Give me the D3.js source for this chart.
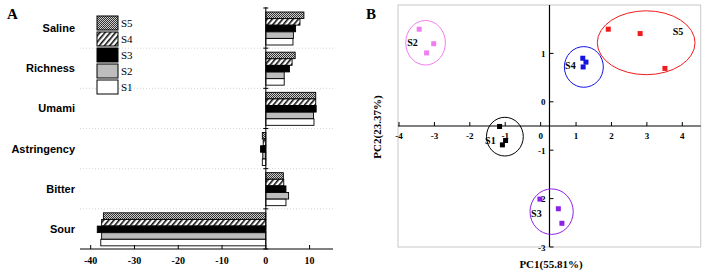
<!DOCTYPE html>
<html>
<head>
<meta charset="utf-8">
<script src="https://cdn.jsdelivr.net/npm/d3@7"></script>
<style>
  body { margin: 0; background: #fff; }
  svg { display: block; }
</style>
</head>
<body>
<svg id="chart" width="708" height="275"></svg>
<script>
// panel A - taste profile
const categories = ["Saline", "Richness", "Umami", "Astringency", "Bitter", "Sour"];
const series = ["S5", "S4", "S3", "S2", "S1"];
const valS1 = [6.2, 4.2, 11.0, -0.8, 4.6, -37.7];
const valS2 = [6.3, 4.2, 10.9, -0.7, 5.2, -37.5];
const valS3 = [6.8, 5.4, 11.5, -1.2, 4.6, -38.5];
const valS4 = [7.8, 6.0, 11.4, -0.6, 4.1, -37.5];
const valS5 = [8.7, 6.7, 11.4, -0.8, 4.0, -37.1];
const xTicksA = [-40, -30, -20, -10, 0, 10];

// panel B - PCA scores
const pcaS1 = [[-1.16, -0.51], [-0.99, -0.80], [-1.08, -0.89]];
const pcaS2 = [[-3.43, 1.50], [-3.02, 1.20], [-3.22, 1.01]];
const pcaS3 = [[-0.02, -2.01], [0.50, -2.21], [0.60, -2.51]];
const pcaS4 = [[1.19, 0.90], [1.28, 0.82], [1.20, 0.72]];
const pcaS5 = [[1.91, 1.50], [2.81, 1.41], [3.51, 0.69]];
// group ellipses: cx, cy, rx, ry (data units)
const ellS1 = [-1.01, -0.72, 0.52, 0.40];
const ellS2 = [-3.25, 1.22, 0.56, 0.46];
const ellS3 = [0.31, -2.27, 0.61, 0.47];
const ellS4 = [1.22, 0.72, 0.55, 0.42];
const ellS5 = [2.98, 1.22, 1.38, 0.66];
const labelPos = [[-1.42, -0.80], [-3.62, 1.22], [-0.12, -2.30], [0.84, 0.76], [3.88, 1.45]];
const xTicksB = [-4, -3, -2, -1, 0, 1, 2, 3, 4];
const yTicksB = [1, 0, -1, -2, -3];

const svg = d3.select("#chart");
const serif = "'Liberation Serif', 'DejaVu Serif', serif";
const sans = "'Liberation Sans', Arial, sans-serif";

// patterns
const defs = svg.append("defs");
let pDots = defs.append("pattern").attr("id", "pDots")
  .attr("patternUnits", "userSpaceOnUse").attr("width", 2).attr("height", 2);
pDots.append("rect").attr("width", 2).attr("height", 2).attr("fill", "#d0d0d0");
pDots.append("rect").attr("width", 1).attr("height", 1).attr("fill", "#333");
pDots.append("rect").attr("x", 1).attr("y", 1).attr("width", 1).attr("height", 1).attr("fill", "#333");

let pHatch = defs.append("pattern").attr("id", "pHatch")
  .attr("patternUnits", "userSpaceOnUse").attr("width", 4).attr("height", 4)
  .attr("patternTransform", "rotate(40)");
pHatch.append("rect").attr("width", 4).attr("height", 4).attr("fill", "#fff");
pHatch.append("rect").attr("width", 1.6).attr("height", 4).attr("fill", "#111");

const fills = { S5: "url(#pDots)", S4: "url(#pHatch)", S3: "#000", S2: "#bdbdbd", S1: "#fff" };
const valuesBy = { S1: valS1, S2: valS2, S3: valS3, S4: valS4, S5: valS5 };

// ---------- panel A ----------
let xA = d3.scaleLinear().domain([-40, 10]).range([90.7, 309.6]);
let yA = d3.scaleBand().domain(categories).range([8, 249]);
let yInner = d3.scaleBand().domain(series).range([4, 37]).paddingInner(0.02);

let gA = svg.append("g");

// dotted separators
gA.selectAll("line.sep").data(categories.slice(1))
  .join("line").attr("class", "sep")
  .attr("x1", 80).attr("x2", 333)
  .attr("y1", d => yA(d)).attr("y2", d => yA(d))
  .attr("stroke", "#ccc").attr("stroke-width", 0.8).attr("stroke-dasharray", "1,2");

// bars
series.forEach(s => {
  gA.selectAll("rect.b" + s).data(categories)
    .join("rect").attr("class", "b" + s)
    .attr("x", (d, i) => xA(Math.min(0, valuesBy[s][i])))
    .attr("width", (d, i) => Math.abs(xA(valuesBy[s][i]) - xA(0)))
    .attr("y", d => yA(d) + yInner(s))
    .attr("height", yInner.bandwidth())
    .attr("fill", fills[s])
    .attr("stroke", "#000").attr("stroke-width", 0.9);
});

// x axis
let axA = gA.append("g").attr("transform", "translate(0,249)");
axA.append("line").attr("x1", 80).attr("x2", 333).attr("stroke", "#000").attr("stroke-width", 1);
axA.selectAll("line.tk").data(xTicksA).join("line").attr("class", "tk")
  .attr("x1", d => xA(d)).attr("x2", d => xA(d)).attr("y1", 0).attr("y2", -4)
  .attr("stroke", "#000");
axA.selectAll("text").data(xTicksA).join("text")
  .attr("x", d => xA(d)).attr("y", 15)
  .attr("text-anchor", "middle")
  .attr("font-family", serif).attr("font-weight", "bold").attr("font-size", 10)
  .text(d => d);

// y axis at zero
gA.append("line").attr("x1", xA(0)).attr("x2", xA(0)).attr("y1", 7).attr("y2", 249)
  .attr("stroke", "#000").attr("stroke-width", 1);
gA.selectAll("line.ytk").data(categories.concat(["end"]))
  .join("line").attr("class", "ytk")
  .attr("x1", xA(0) - 2.5).attr("x2", xA(0) + 2.5)
  .attr("y1", d => d === "end" ? 249 : yA(d)).attr("y2", d => d === "end" ? 249 : yA(d))
  .attr("stroke", "#000");

// category labels
gA.selectAll("text.cat").data(categories).join("text").attr("class", "cat")
  .attr("x", 75).attr("y", d => yA(d) + yA.bandwidth() / 2 + 4)
  .attr("text-anchor", "end")
  .attr("font-family", sans).attr("font-weight", "bold").attr("font-size", 11)
  .text(d => d);

// legend
let leg = gA.append("g").attr("transform", "translate(97,16)");
series.forEach((s, i) => {
  leg.append("rect").attr("x", 0).attr("y", i * 16).attr("width", 21).attr("height", 14)
    .attr("fill", fills[s]).attr("stroke", "#000").attr("stroke-width", 1);
  leg.append("text").attr("x", 24).attr("y", i * 16 + 11)
    .attr("font-family", serif).attr("font-size", 11).text(s);
});

svg.append("text").attr("x", 7).attr("y", 19)
  .attr("font-family", serif).attr("font-weight", "bold").attr("font-size", 15).text("A");

// ---------- panel B ----------
let xB = d3.scaleLinear().domain([-4, 4.52]).range([399, 700.7]);
let yB = d3.scaleLinear().domain([-3, 2]).range([247, 5]);
let gB = svg.append("g");

gB.append("rect").attr("x", 398).attr("y", 5).attr("width", 302.7).attr("height", 242)
  .attr("fill", "none").attr("stroke", "#c8c8c8").attr("stroke-width", 1);

const xAxisY = yB(-0.5), yAxisX = xB(0.25);
gB.append("line").attr("x1", 398).attr("x2", 700.7).attr("y1", xAxisY).attr("y2", xAxisY)
  .attr("stroke", "#000").attr("stroke-width", 1.2);
gB.append("line").attr("x1", yAxisX).attr("x2", yAxisX).attr("y1", 5).attr("y2", 247)
  .attr("stroke", "#000").attr("stroke-width", 1.2);

gB.selectAll("line.xtk").data(xTicksB).join("line").attr("class", "xtk")
  .attr("x1", d => xB(d)).attr("x2", d => xB(d)).attr("y1", xAxisY).attr("y2", xAxisY - 4)
  .attr("stroke", "#000");
gB.selectAll("text.xtl").data(xTicksB).join("text").attr("class", "xtl")
  .attr("x", d => xB(d)).attr("y", xAxisY + 13).attr("text-anchor", "middle")
  .attr("font-family", serif).attr("font-weight", "bold").attr("font-size", 9)
  .text(d => d);

gB.selectAll("line.ytkB").data(yTicksB).join("line").attr("class", "ytkB")
  .attr("x1", yAxisX).attr("x2", yAxisX + 4).attr("y1", d => yB(d)).attr("y2", d => yB(d))
  .attr("stroke", "#000");
gB.selectAll("text.ytl").data(yTicksB).join("text").attr("class", "ytl")
  .attr("x", yAxisX - 4).attr("y", d => yB(d) + 3.5).attr("text-anchor", "end")
  .attr("font-family", serif).attr("font-weight", "bold").attr("font-size", 9)
  .text(d => d);

const groups = [
  { name: "S1", pts: pcaS1, ell: ellS1, color: "#000000" },
  { name: "S2", pts: pcaS2, ell: ellS2, color: "#f07ef0" },
  { name: "S3", pts: pcaS3, ell: ellS3, color: "#8a22e6" },
  { name: "S4", pts: pcaS4, ell: ellS4, color: "#1414e0" },
  { name: "S5", pts: pcaS5, ell: ellS5, color: "#ee1c1c" }
];

groups.forEach((g, gi) => {
  gB.append("ellipse")
    .attr("cx", xB(g.ell[0])).attr("cy", yB(g.ell[1]))
    .attr("rx", xB(g.ell[2]) - xB(0)).attr("ry", yB(0) - yB(g.ell[3]))
    .attr("fill", "none").attr("stroke", g.color).attr("stroke-width", 1);
  gB.selectAll("rect.p" + g.name).data(g.pts).join("rect").attr("class", "p" + g.name)
    .attr("x", d => xB(d[0]) - 2.5).attr("y", d => yB(d[1]) - 2.5)
    .attr("width", 5).attr("height", 5).attr("fill", g.color);
  gB.append("text")
    .attr("x", xB(labelPos[gi][0])).attr("y", yB(labelPos[gi][1]) + 3.5)
    .attr("text-anchor", "middle")
    .attr("font-family", serif).attr("font-weight", "bold").attr("font-size", 10)
    .text(g.name);
});

gB.append("text").attr("x", 551).attr("y", 268).attr("text-anchor", "middle")
  .attr("font-family", serif).attr("font-weight", "bold").attr("font-size", 11)
  .text("PC1(55.81%)");
gB.append("text").attr("transform", "translate(381,127) rotate(-90)").attr("text-anchor", "middle")
  .attr("font-family", serif).attr("font-weight", "bold").attr("font-size", 11)
  .text("PC2(23.37%)");

svg.append("text").attr("x", 366).attr("y", 19)
  .attr("font-family", serif).attr("font-weight", "bold").attr("font-size", 15).text("B");
</script>
</body>
</html>
